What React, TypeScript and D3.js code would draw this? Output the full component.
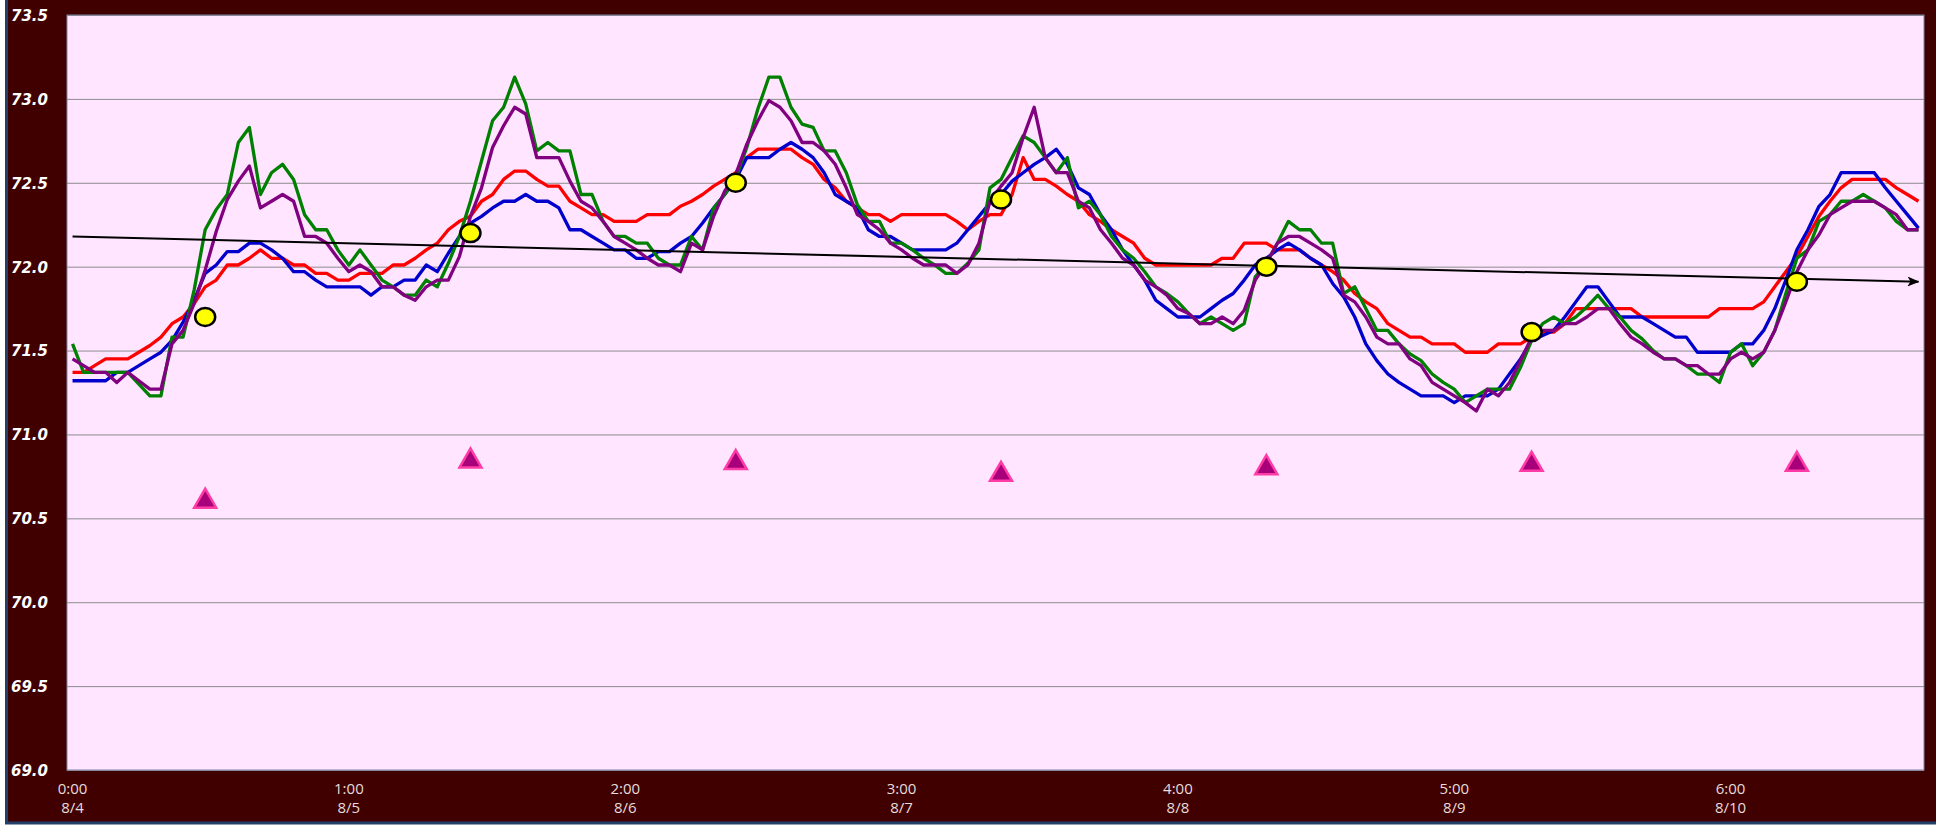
import React, { useEffect, useRef } from "react";
import * as d3 from "d3";

// hourly readings, 7 days x 24 h, index 0 = 0:00 8/4
const redSeries = [
    71.37, 71.37, 71.41, 71.45, 71.45, 71.45, 71.49, 71.53, 71.58, 71.66, 71.70, 71.78, 71.88, 71.92, 72.01, 72.01, 72.05, 72.10, 72.05, 72.05, 72.01, 72.01, 71.96, 71.96, 71.92, 71.92, 71.96, 71.96, 71.96, 72.01, 72.01, 72.05, 72.10, 72.14,
    72.22, 72.27, 72.30, 72.39, 72.43, 72.52, 72.57, 72.57, 72.52, 72.48, 72.48, 72.39, 72.35, 72.31, 72.31, 72.27, 72.27, 72.27, 72.31, 72.31, 72.31, 72.36, 72.39, 72.43, 72.48, 72.52, 72.56, 72.65, 72.70, 72.70, 72.70, 72.70, 72.65,
    72.61, 72.52, 72.47, 72.39, 72.35, 72.31, 72.31, 72.27, 72.31, 72.31, 72.31, 72.31, 72.31, 72.27, 72.22, 72.27, 72.31, 72.31, 72.43, 72.65, 72.52, 72.52, 72.48, 72.43, 72.39, 72.31, 72.27, 72.22, 72.18, 72.14, 72.05, 72.01, 72.01, 72.01,
    72.01, 72.01, 72.01, 72.05, 72.05, 72.14, 72.14, 72.14, 72.10, 72.10, 72.10, 72.05, 72.01, 71.97, 71.92, 71.84, 71.79, 71.75, 71.66, 71.62, 71.58, 71.58, 71.54, 71.54, 71.54, 71.49, 71.49, 71.49, 71.54, 71.54, 71.54, 71.58, 71.61,
    71.61, 71.66, 71.75, 71.75, 71.75, 71.75, 71.75, 71.75, 71.70, 71.70, 71.70, 71.70, 71.70, 71.70, 71.70, 71.75, 71.75, 71.75, 71.75, 71.79, 71.88, 71.97, 72.06, 72.18, 72.30, 72.39, 72.47, 72.52, 72.52, 72.52, 72.52, 72.47, 72.43, 72.39,
];

const blueSeries = [
    71.32, 71.32, 71.32, 71.32, 71.37, 71.37, 71.41, 71.45, 71.49, 71.56, 71.67, 71.80, 71.96, 72.01, 72.09, 72.09, 72.14, 72.14, 72.10, 72.05, 71.97, 71.97, 71.92, 71.88, 71.88, 71.88, 71.88, 71.83, 71.88, 71.88, 71.92, 71.92, 72.01, 71.97,
    72.08, 72.18, 72.26, 72.30, 72.35, 72.39, 72.39, 72.43, 72.39, 72.39, 72.35, 72.22, 72.22, 72.18, 72.14, 72.10, 72.10, 72.05, 72.05, 72.09, 72.09, 72.14, 72.18, 72.26, 72.35, 72.43, 72.52, 72.65, 72.65, 72.65, 72.70, 72.74, 72.70,
    72.65, 72.56, 72.43, 72.39, 72.35, 72.22, 72.18, 72.18, 72.14, 72.10, 72.10, 72.10, 72.10, 72.14, 72.22, 72.30, 72.38, 72.43, 72.51, 72.56, 72.61, 72.65, 72.70, 72.61, 72.47, 72.43, 72.31, 72.22, 72.10, 72.01, 71.92, 71.80, 71.75, 71.70,
    71.70, 71.70, 71.75, 71.80, 71.84, 71.92, 72.01, 72.05, 72.10, 72.14, 72.10, 72.05, 72.01, 71.90, 71.82, 71.70, 71.54, 71.44, 71.36, 71.31, 71.27, 71.23, 71.23, 71.23, 71.19, 71.23, 71.23, 71.23, 71.27, 71.36, 71.45, 71.56, 71.59,
    71.62, 71.70, 71.79, 71.88, 71.88, 71.79, 71.70, 71.70, 71.70, 71.66, 71.62, 71.58, 71.58, 71.49, 71.49, 71.49, 71.49, 71.54, 71.54, 71.62, 71.75, 71.92, 72.10, 72.22, 72.36, 72.43, 72.56, 72.56, 72.56, 72.56, 72.47, 72.39, 72.31, 72.23,
];

const greenSeries = [
    71.54, 71.37, 71.37, 71.37, 71.37, 71.37, 71.30, 71.23, 71.23, 71.58, 71.58, 71.86, 72.22, 72.34, 72.43, 72.74, 72.83, 72.43, 72.56, 72.61, 72.52, 72.31, 72.22, 72.22, 72.10, 72.01, 72.10, 72.01, 71.92, 71.88, 71.83, 71.83, 71.92, 71.88,
    72.02, 72.18, 72.39, 72.63, 72.87, 72.95, 73.13, 72.97, 72.69, 72.74, 72.69, 72.69, 72.43, 72.43, 72.27, 72.18, 72.18, 72.14, 72.14, 72.05, 72.01, 72.01, 72.18, 72.10, 72.35, 72.43, 72.53, 72.71, 72.94, 73.13, 73.13, 72.95, 72.85,
    72.83, 72.69, 72.69, 72.56, 72.37, 72.27, 72.27, 72.14, 72.14, 72.10, 72.05, 72.01, 71.96, 71.96, 72.02, 72.10, 72.47, 72.52, 72.65, 72.78, 72.74, 72.65, 72.56, 72.65, 72.35, 72.39, 72.31, 72.18, 72.10, 72.05, 71.97, 71.88, 71.84, 71.79,
    71.72, 71.66, 71.70, 71.66, 71.62, 71.66, 71.94, 72.02, 72.14, 72.27, 72.22, 72.22, 72.14, 72.14, 71.84, 71.88, 71.75, 71.62, 71.62, 71.54, 71.48, 71.44, 71.36, 71.31, 71.27, 71.19, 71.23, 71.27, 71.27, 71.27, 71.40, 71.56, 71.66,
    71.70, 71.66, 71.70, 71.76, 71.83, 71.75, 71.70, 71.62, 71.57, 71.50, 71.45, 71.45, 71.41, 71.36, 71.36, 71.31, 71.49, 71.54, 71.41, 71.49, 71.62, 71.84, 72.05, 72.10, 72.27, 72.31, 72.39, 72.39, 72.43, 72.39, 72.35, 72.27, 72.22, 72.22,
];

const purpleSeries = [
    71.45, 71.41, 71.37, 71.37, 71.31, 71.37, 71.32, 71.27, 71.27, 71.54, 71.62, 71.78, 71.98, 72.21, 72.40, 72.51, 72.60, 72.35, 72.39, 72.43, 72.39, 72.18, 72.18, 72.14, 72.05, 71.97, 72.01, 71.97, 71.88, 71.88, 71.83, 71.80, 71.88, 71.92,
    71.92, 72.06, 72.30, 72.47, 72.71, 72.84, 72.95, 72.91, 72.65, 72.65, 72.65, 72.51, 72.39, 72.35, 72.27, 72.18, 72.14, 72.10, 72.05, 72.01, 72.01, 71.97, 72.14, 72.10, 72.30, 72.45, 72.55, 72.73, 72.87, 72.99, 72.95, 72.87, 72.74,
    72.74, 72.69, 72.61, 72.47, 72.31, 72.27, 72.22, 72.14, 72.10, 72.05, 72.01, 72.01, 72.01, 71.96, 72.01, 72.14, 72.39, 72.48, 72.56, 72.77, 72.95, 72.65, 72.56, 72.56, 72.39, 72.35, 72.22, 72.14, 72.05, 72.01, 71.92, 71.88, 71.83, 71.75,
    71.72, 71.66, 71.66, 71.70, 71.66, 71.74, 71.92, 72.02, 72.14, 72.18, 72.18, 72.14, 72.10, 72.05, 71.83, 71.79, 71.70, 71.58, 71.54, 71.54, 71.45, 71.41, 71.31, 71.27, 71.23, 71.19, 71.14, 71.27, 71.23, 71.31, 71.44, 71.58, 71.62,
    71.62, 71.66, 71.66, 71.70, 71.75, 71.75, 71.66, 71.58, 71.54, 71.49, 71.45, 71.45, 71.41, 71.41, 71.36, 71.36, 71.45, 71.49, 71.45, 71.49, 71.62, 71.79, 71.97, 72.10, 72.19, 72.31, 72.35, 72.39, 72.39, 72.39, 72.35, 72.31, 72.22, 72.22,
];

// daily markers, placed at noon of each day
const markerHours = [12, 36, 60, 84, 108, 132, 156];
const dailyCircles = [71.7, 72.2, 72.5, 72.4, 72.0, 71.61, 71.91];
const dailyTriangles = [70.62, 70.86, 70.85, 70.78, 70.82, 70.84, 70.84];

// trend line end values (first and last hour)
const trendStart = 72.18;
const trendEnd = 71.91;

const yTicks = [69.0, 69.5, 70.0, 70.5, 71.0, 71.5, 72.0, 72.5, 73.0, 73.5];
const tickEvery = 25;
const xTickLabels = [
    ["0:00", "8/4"],
    ["1:00", "8/5"],
    ["2:00", "8/6"],
    ["3:00", "8/7"],
    ["4:00", "8/8"],
    ["5:00", "8/9"],
    ["6:00", "8/10"],
];

const series = [
    { values: redSeries, color: "#ff0000" },
    { values: blueSeries, color: "#0000cc" },
    { values: greenSeries, color: "#008000" },
    { values: purpleSeries, color: "#800080" },
];

const W = 1936;
const H = 825;
const margin = { top: 15, right: 12, bottom: 55, left: 67 };

const App: React.FC = () => {
    const svgRef = useRef<SVGSVGElement>(null);

    useEffect(() => {
        const svg = d3.select(svgRef.current);
        svg.selectAll("*").remove();

        const plotW = W - margin.left - margin.right;
        const plotH = H - margin.top - margin.bottom;
        const hours = d3.range(redSeries.length);

        const x = d3.scaleBand<number>().domain(hours).range([margin.left, margin.left + plotW]);
        const xc = (i: number) => (x(i) as number) + x.bandwidth() / 2;
        const y = d3.scaleLinear().domain([69, 73.5]).range([margin.top + plotH, margin.top]);

        // backgrounds
        svg.append("rect").attr("width", W).attr("height", H).attr("fill", "#ffffff");
        svg.append("rect")
            .attr("x", 6.5)
            .attr("y", -5)
            .attr("width", W + 10)
            .attr("height", H + 3)
            .attr("fill", "#400000")
            .attr("stroke", "#22406a")
            .attr("stroke-width", 3);
        svg.append("rect")
            .attr("x", margin.left)
            .attr("y", margin.top)
            .attr("width", plotW)
            .attr("height", plotH)
            .attr("fill", "#ffe5ff");

        // y axis + gridlines
        const gy = svg.append("g")
            .attr("transform", `translate(${margin.left},0)`)
            .call(d3.axisLeft(y).tickValues(yTicks).tickSize(-plotW).tickFormat(d3.format(".1f")));
        gy.select(".domain").remove();
        gy.selectAll(".tick line").attr("stroke", "#8c8c8c").attr("stroke-width", 1);
        gy.selectAll(".tick text")
            .attr("x", 11 - margin.left)
            .attr("dy", "0.36em")
            .attr("text-anchor", "start")
            .attr("fill", "#ffffff")
            .style("font", "italic bold 15px 'DejaVu Sans', Verdana, sans-serif");

        svg.append("rect")
            .attr("x", margin.left)
            .attr("y", margin.top)
            .attr("width", plotW)
            .attr("height", plotH)
            .attr("fill", "none")
            .attr("stroke", "#7f86a8")
            .attr("stroke-width", 1);

        // x axis
        const gx = svg.append("g")
            .attr("transform", `translate(0,${margin.top + plotH})`)
            .call(
                d3.axisBottom(x)
                    .tickValues(hours.filter(h => h % tickEvery === 0))
                    .tickSize(0)
                    .tickFormat(() => ""),
            );
        gx.select(".domain").remove();
        gx.selectAll<SVGTextElement, number>(".tick text").each(function (d) {
            const lbl = xTickLabels[d / tickEvery];
            const t = d3.select(this).attr("y", 0).attr("dy", null)
                .attr("fill", "#e6dcdc")
                .style("font", "15px 'Open Sans', sans-serif");
            t.append("tspan").attr("x", 0).attr("y", 24).text(lbl[0]);
            t.append("tspan").attr("x", 0).attr("y", 43).text(lbl[1]);
        });

        // series lines
        const line = d3.line<number>()
            .x((_, i) => xc(i))
            .y(d => y(d));
        series.forEach(s => {
            svg.append("path")
                .datum(s.values)
                .attr("fill", "none")
                .attr("stroke", s.color)
                .attr("stroke-width", 3.3)
                .attr("stroke-linejoin", "round")
                .attr("d", line);
        });

        // trend arrow
        const defs = svg.append("defs");
        defs.append("marker")
            .attr("id", "arrow")
            .attr("markerUnits", "userSpaceOnUse")
            .attr("viewBox", "0 0 12 10")
            .attr("refX", 11)
            .attr("refY", 5)
            .attr("markerWidth", 12)
            .attr("markerHeight", 10)
            .attr("orient", "auto")
            .append("path")
            .attr("d", "M0,0 L12,5 L0,10 L3,5 Z")
            .attr("fill", "#000");
        svg.append("line")
            .attr("x1", xc(0))
            .attr("y1", y(trendStart))
            .attr("x2", xc(hours.length - 1))
            .attr("y2", y(trendEnd))
            .attr("stroke", "#000")
            .attr("stroke-width", 2)
            .attr("marker-end", "url(#arrow)");

        // triangles
        const tw = 22;
        const th = 19;
        svg.append("g")
            .selectAll("path")
            .data(dailyTriangles)
            .join("path")
            .attr("transform", (d, i) => `translate(${xc(markerHours[i])},${y(d)})`)
            .attr("d", `M0,${-th / 2} L${tw / 2},${th / 2} L${-tw / 2},${th / 2} Z`)
            .attr("fill", "#a8007a")
            .attr("stroke", "#ff3ca6")
            .attr("stroke-width", 2.5)
            .attr("stroke-linejoin", "miter");

        // daily circles
        svg.append("g")
            .selectAll("ellipse")
            .data(dailyCircles)
            .join("ellipse")
            .attr("cx", (d, i) => xc(markerHours[i]))
            .attr("cy", d => y(d))
            .attr("rx", 10)
            .attr("ry", 9)
            .attr("fill", "#ffff00")
            .attr("stroke", "#000")
            .attr("stroke-width", 2.5);
    }, []);

    return (
        <svg
            ref={svgRef}
            width={W}
            height={H}
            style={{ position: "absolute", left: 0, top: 0, display: "block" }}
        />
    );
};

export default App;
